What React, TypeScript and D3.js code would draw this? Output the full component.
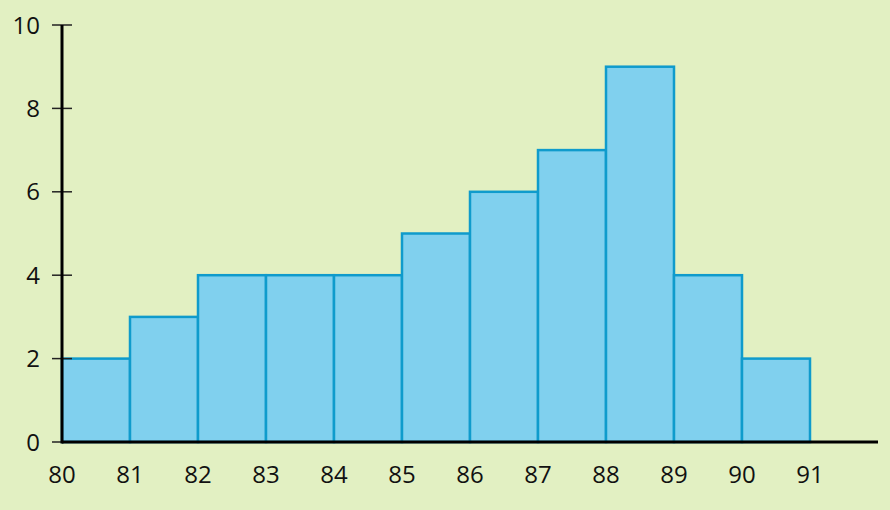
import React from "react";
import * as d3 from "d3";

const binStarts = [80, 81, 82, 83, 84, 85, 86, 87, 88, 89, 90];
const counts = [2, 3, 4, 4, 4, 5, 6, 7, 9, 4, 2];
const xTicks = [80, 81, 82, 83, 84, 85, 86, 87, 88, 89, 90, 91];
const yTicks = [0, 2, 4, 6, 8, 10];

const W = 890;
const H = 510;
const margin = { left: 62, top: 25, right: 12, bottom: 68 };

export default function App() {
  const x = d3
    .scaleLinear()
    .domain([80, 92])
    .range([margin.left, W - margin.right]);
  const y = d3
    .scaleLinear()
    .domain([0, 10])
    .range([H - margin.bottom, margin.top]);

  const font = "'Open Sans', 'Noto Sans', sans-serif";

  return (
    <svg
      width={W}
      height={H}
      style={{ position: "absolute", left: 0, top: 0, display: "block" }}
    >
      <rect x={0} y={0} width={W} height={H} fill="#e2f0c2" />
      {binStarts.map((b, i) => (
        <rect
          key={b}
          x={x(b)}
          y={y(counts[i])}
          width={x(b + 1) - x(b)}
          height={y(0) - y(counts[i])}
          fill="#80d0ee"
          stroke="#0f9bcc"
          strokeWidth={2.5}
        />
      ))}
      {yTicks.map((t) => (
        <g key={t}>
          <line
            x1={margin.left - 10}
            x2={margin.left + 10}
            y1={y(t)}
            y2={y(t)}
            stroke="#222"
            strokeWidth={1.5}
          />
          <text
            x={40}
            y={y(t)}
            dy="0.36em"
            textAnchor="end"
            fontFamily={font}
            fontSize={24}
            fill="#111"
          >
            {t}
          </text>
        </g>
      ))}
      <line
        x1={margin.left}
        x2={margin.left}
        y1={y(10)}
        y2={y(0) + 1.5}
        stroke="#000"
        strokeWidth={3}
      />
      <line
        x1={margin.left}
        x2={x(92)}
        y1={y(0)}
        y2={y(0)}
        stroke="#000"
        strokeWidth={3}
      />
      {xTicks.map((t) => (
        <text
          key={t}
          x={x(t)}
          y={y(0) + 41}
          textAnchor="middle"
          fontFamily={font}
          fontSize={24}
          fill="#111"
        >
          {t}
        </text>
      ))}
    </svg>
  );
}
